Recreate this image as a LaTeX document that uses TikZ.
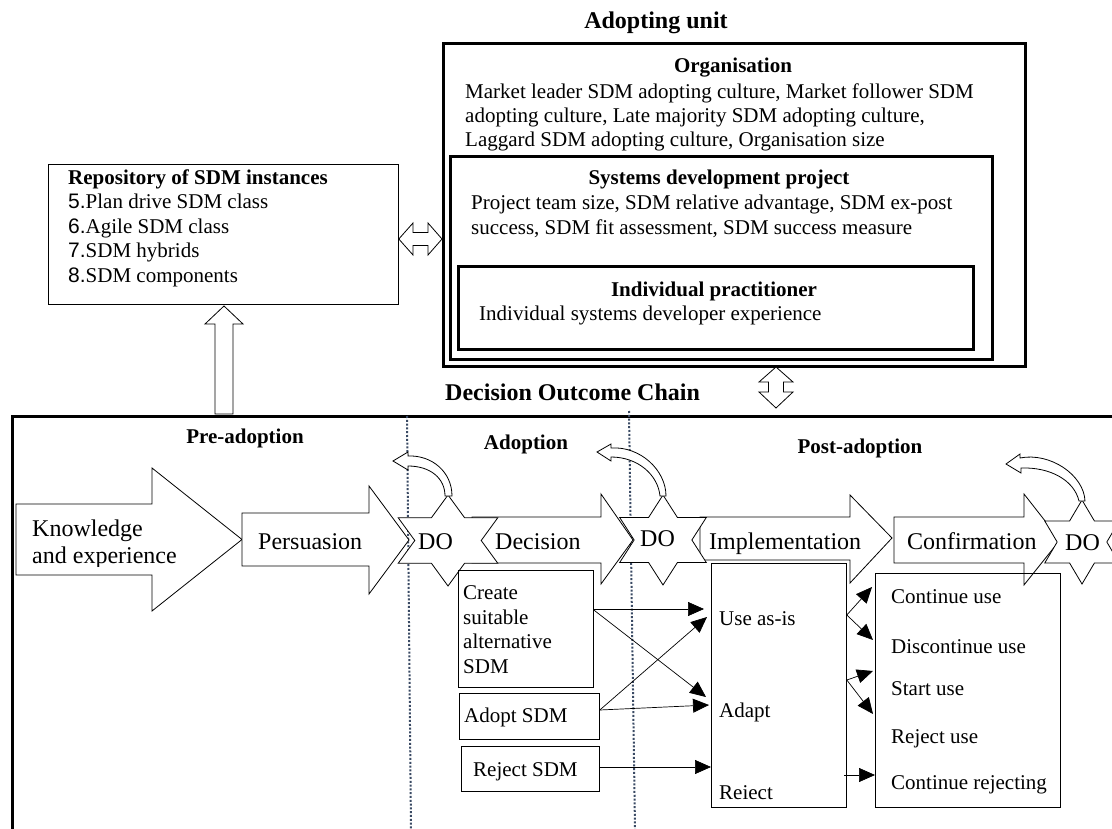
\documentclass[tikz,border=0pt]{standalone}
\usepackage{fontspec}
\setmainfont{Liberation Serif}
\newfontfamily\numfont{Liberation Sans}
\usetikzlibrary{arrows.meta}
\definecolor{dotblue}{RGB}{58,74,100}
\tikzset{
  thinbox/.style={draw=black, line width=0.8pt, inner sep=0pt, anchor=north west},
  thickbox/.style={draw=black, line width=3pt, inner sep=0pt, anchor=north west},
  lbl/.style={inner sep=0pt, anchor=base west, font=\fontsize{21}{24.5}\selectfont},
  bigl/.style={inner sep=0pt, anchor=base west, font=\fontsize{24}{27}\selectfont},
  hd/.style={inner sep=0pt, anchor=base, font=\fontsize{21}{24}\selectfont\bfseries},
  bighd/.style={inner sep=0pt, anchor=base, font=\fontsize{24}{27}\selectfont\bfseries},
  blockarrow/.style={draw=black, fill=white, line width=0.8pt, line join=miter},
  starsty/.style={draw=black, fill=white, line width=0.8pt, line join=miter},
  conn/.style={draw=black, line width=0.7pt, -{Triangle[length=16pt,width=14pt]}},
  dotline/.style={draw=dotblue, line width=2pt, dash pattern=on 2pt off 1.8pt}
}
\newcommand\sixstar[4]{%
  \draw[starsty] (#1,#2-#4) -- (#1+0.2887*#3,#2-0.5*#4) -- (#1+0.866*#3,#2-0.5*#4)
   -- (#1+0.5774*#3,#2) -- (#1+0.866*#3,#2+0.5*#4) -- (#1+0.2887*#3,#2+0.5*#4)
   -- (#1,#2+#4) -- (#1-0.2887*#3,#2+0.5*#4) -- (#1-0.866*#3,#2+0.5*#4)
   -- (#1-0.5774*#3,#2) -- (#1-0.866*#3,#2-0.5*#4) -- (#1-0.2887*#3,#2-0.5*#4) -- cycle;}
\begin{document}
\begin{tikzpicture}[x=1pt,y=-1pt]
\useasboundingbox (0,0) rectangle (1112,829);
\fill[white] (0,0) rectangle (1112,829);
\clip (0,0) rectangle (1112,829);

% ---------- Adopting unit ----------
\node[bighd] (autitle) at (656,29) {Adopting unit};
\node[thickbox, minimum width=582, minimum height=323] (org) at (442,42) {};
\node[hd] (orgtitle) at (733,73) {Organisation};
\node[lbl] (org1) at (465,99) {Market leader SDM adopting culture, Market follower SDM};
\node[lbl] (org2) at (465,123) {adopting culture, Late majority SDM adopting culture,};
\node[lbl] (org3) at (465,147) {Laggard SDM adopting culture, Organisation size};
\node[thickbox, minimum width=542, minimum height=203] (sdp) at (449,155) {};
\node[hd] (sdptitle) at (719,185) {Systems development project};
\node[lbl] (sdp1) at (471,210) {Project team size, SDM relative advantage, SDM ex-post};
\node[lbl] (sdp2) at (471,235) {success, SDM fit assessment, SDM success measure};
\node[thickbox, minimum width=515, minimum height=83] (ip) at (457,265) {};
\node[hd] (iptitle) at (714,297) {Individual practitioner};
\node[lbl] (ip1) at (479,320) {Individual systems developer experience};

% ---------- Repository ----------
\node[thinbox, minimum width=350, minimum height=140] (repo) at (48,164) {};
\node[hd, anchor=base west] (repotitle) at (68,185) {Repository of SDM instances};
\node[lbl] (r5) at (68,209) {{\numfont 5.}Plan drive SDM class};
\node[lbl] (r6) at (68,234) {{\numfont 6.}Agile SDM class};
\node[lbl] (r7) at (68,258) {{\numfont 7.}SDM hybrids};
\node[lbl] (r8) at (68,283) {{\numfont 8.}SDM components};

% double arrow repo <-> adopting unit
\draw[blockarrow] (repo.east |- 0,239) -- (413,223) -- (413,232.5) -- (428,232.5) -- (428,223)
  -- (org.west |- 0,239) -- (428,255) -- (428,245.5) -- (413,245.5) -- (413,255) -- cycle;

% ---------- Decision Outcome Chain frame ----------
\node[thickbox, minimum width=1130, minimum height=440] (chain) at (11,415) {};
\node[bighd, anchor=base west] (doctitle) at (445,400) {Decision Outcome Chain};

% vertical double arrow adopting unit <-> chain
\draw[blockarrow] (776,367) -- (793,382) -- (783.5,382) -- (783.5,392) -- (793,392) -- (776,408)
  -- (759,392) -- (768.5,392) -- (768.5,382) -- (759,382) -- cycle;

% up arrow chain -> repository
\draw[blockarrow] (224,306) -- (243,324) -- (233,324) -- (233,414) -- (215,414) -- (215,324) -- (205,324) -- cycle;

% dotted phase separators
\draw[dotline] (407,416) -- (411,829);
\draw[dotline] (629,411) -- (635,829);

% phase labels
\node[hd] (pre) at (245,443) {Pre-adoption};
\node[hd] (adop) at (526,449) {Adoption};
\node[hd] (post) at (860,453) {Post-adoption};

% ---------- block arrows ----------
\draw[blockarrow] (16,504) -- (152,504) -- (152,468) -- (242,539.5) -- (152,611) -- (152,575) -- (16,575) -- cycle;
\draw[blockarrow] (242,513) -- (369,513) -- (369,486) -- (409,540) -- (369,594) -- (369,566) -- (242,566) -- cycle;
\draw[blockarrow] (472,517) -- (601,517) -- (601,494) -- (633,540) -- (601,584) -- (601,563) -- (472,563) -- cycle;
\draw[blockarrow] (700,517) -- (850,517) -- (850,495) -- (892,538) -- (850,583) -- (850,560) -- (700,560) -- cycle;
\draw[blockarrow] (894,517) -- (1024,517) -- (1024,494) -- (1060,540) -- (1024,585) -- (1024,563) -- (894,563) -- cycle;

% ---------- DO stars ----------
\sixstar{448}{540.5}{57.5}{45.5}
\sixstar{663}{540}{50}{45}
\sixstar{1082}{542}{43}{42}

% curved hollow arrows
\draw[blockarrow] (408,456) .. controls (432,455) and (452,472) .. (452,496) -- (445,496)
  .. controls (445,478) and (430,466) .. (408,466) -- (408,470) -- (393,461) -- (408,452) -- cycle;
\draw[blockarrow] (611,448) .. controls (640,446) and (666,470) .. (666,496) -- (660,496)
  .. controls (658,475) and (638,457) .. (611,457) -- (611,461) -- (597,452) -- (611,444) -- cycle;
\draw[blockarrow] (1020,458) .. controls (1050,452) and (1084,475) .. (1085,501) -- (1079,501)
  .. controls (1074,480) and (1050,467) .. (1021,468) -- (1021,473) -- (1006,464) -- (1020,454) -- cycle;

% arrow labels
\begin{scope}
\clip (16,480) rectangle (240,566);
\node[bigl] (know1) at (32,536) {Knowledge};
\node[bigl] (know2) at (32,563) {and experience};
\end{scope}
\node[bigl] (pers) at (258,549) {Persuasion};
\node[bigl] (do1) at (418,549) {DO};
\node[bigl] (deci) at (495,549) {Decision};
\node[bigl] (do2) at (640,546) {DO};
\node[bigl] (impl) at (709,549) {Implementation};
\node[bigl] (conf) at (907,549) {Confirmation};
\node[bigl] (do3) at (1065,550) {DO};

% ---------- decision options ----------
\node[thinbox, minimum width=135, minimum height=117] (create) at (458,570) {};
\node[lbl] (c1) at (463,599) {Create};
\node[lbl] (c2) at (463,624) {suitable};
\node[lbl] (c3) at (463,648) {alternative};
\node[lbl] (c4) at (463,673) {SDM};
\node[thinbox, minimum width=140, minimum height=46] (adopt) at (459,693) {};
\node[lbl] (a1) at (464,722) {Adopt SDM};
\node[thinbox, minimum width=138, minimum height=45] (rejsdm) at (461,746) {};
\node[lbl] (rj1) at (473,776) {Reject SDM};

% implementation options
\node[thinbox, minimum width=135, minimum height=244] (implbox) at (711,563) {};
\node[lbl] (useas) at (719,625) {Use as-is};
\node[lbl] (adapt) at (719,717) {Adapt};
\node[lbl] (rejimpl) at (719,799) {Reiect};

% confirmation options
\node[thinbox, minimum width=185, minimum height=234] (confbox) at (875,573) {};
\node[lbl] (cu) at (891,603) {Continue use};
\node[lbl] (dcu) at (891,653) {Discontinue use};
\node[lbl] (su) at (891,695) {Start use};
\node[lbl] (ru) at (891,743) {Reject use};
\node[lbl] (cr) at (891,789) {Continue rejecting};

% ---------- connectors ----------
\draw[conn] (create.east |- 0,609) -- (704,609);
\draw[conn] (create.east |- 0,610) -- (706,697);
\draw[conn] (adopt.east |- 0,710) -- (707,617);
\draw[conn] (adopt.east |- 0,710) -- (709,705);
\draw[conn] (rejsdm.east |- 0,767) -- (implbox.west |- 0,767);
\draw[conn] (implbox.east |- 0,615) -- (872,587);
\draw[conn] (implbox.east |- 0,615) -- (873,640);
\draw[conn] (implbox.east |- 0,680) -- (873,671);
\draw[conn] (implbox.east |- 0,680) -- (873,714);
\draw[conn] (844,775) -- (confbox.west |- 0,775);
\end{tikzpicture}
\end{document}
